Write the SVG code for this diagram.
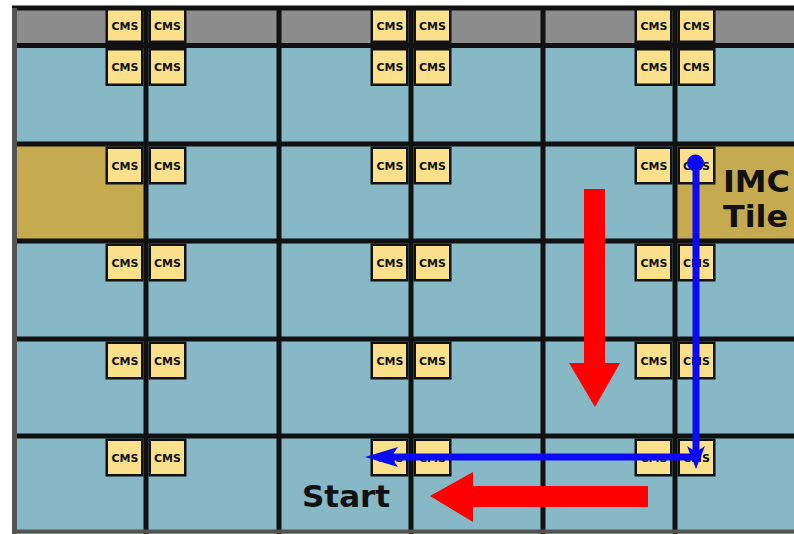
<svg xmlns="http://www.w3.org/2000/svg" width="794" height="534" viewBox="0 0 794 534">
<style>
.cell{fill:#87b8c6}
.box{fill:#fae08a;stroke:#111;stroke-width:2.5}
.lbl{font-family:"DejaVu Sans",sans-serif;font-weight:bold;font-size:11px;fill:#111;text-anchor:middle}
.gl{stroke:#111;stroke-width:5;fill:none}
.big{font-family:"DejaVu Sans",sans-serif;font-weight:bold;fill:#111}
.red{fill:#ff0000}
.blue{stroke:#0a0af5;stroke-width:7;fill:none}
.bluef{fill:#0a0af5}
</style>
<defs>
<g id="pair">
<rect class="box" x="-39.25" y="1.25" width="35.5" height="35.5"/>
<rect class="box" x="3.75" y="1.25" width="35.5" height="35.5"/>
<text class="lbl" x="-21" y="23">CMS</text>
<text class="lbl" x="21.5" y="23">CMS</text>
</g>
<g id="toppair">
<rect class="box" x="-39.25" y="9.25" width="35.5" height="32.5"/>
<rect class="box" x="3.75" y="9.25" width="35.5" height="32.5"/>
<text class="lbl" x="-21" y="29.5">CMS</text>
<text class="lbl" x="21.5" y="29.5">CMS</text>
</g>
</defs>
<rect width="794" height="534" fill="#fff"/>
<g id="grid">
<rect class="cell" x="12" y="6" width="782" height="528"/>
<rect x="12" y="6" width="782" height="40" fill="#8d8d8d"/>
<rect id="imc-left" x="16" y="146" width="128" height="93" fill="#c5aa50"/>
<rect id="imc-right" x="676" y="146" width="118" height="93" fill="#c5aa50"/>
<path class="gl" d="M12 8H794M12 45.5H794M12 144H794M12 241H794M12 339H794M12 436H794M146 6V534M279 6V534M411 6V534M543 6V534M675 6V534"/>
<path d="M14.5 8V534" stroke="#555" stroke-width="5"/>
<path d="M12 531.5H794" stroke="#555" stroke-width="4"/>
</g>
<g id="cms-row0">
<use href="#toppair" x="146" y="0"/><use href="#toppair" x="411" y="0"/><use href="#toppair" x="675" y="0"/>
</g>
<g id="cms-row1">
<use href="#pair" x="146" y="48"/><use href="#pair" x="411" y="48"/><use href="#pair" x="675" y="48"/>
</g>
<g id="cms-row2">
<use href="#pair" x="146" y="146.5"/><use href="#pair" x="411" y="146.5"/><use href="#pair" x="675" y="146.5"/>
</g>
<g id="cms-row3">
<use href="#pair" x="146" y="243.5"/><use href="#pair" x="411" y="243.5"/><use href="#pair" x="675" y="243.5"/>
</g>
<g id="cms-row4">
<use href="#pair" x="146" y="341.5"/><use href="#pair" x="411" y="341.5"/><use href="#pair" x="675" y="341.5"/>
</g>
<g id="cms-row5">
<use href="#pair" x="146" y="438.5"/><use href="#pair" x="411" y="438.5"/><use href="#pair" x="675" y="438.5"/>
</g>
<g id="connectors">
<polygon class="red" points="584,189 605,189 605,363 620,363 595,407 569,363 584,363"/>
<polygon class="red" points="648,486 473,486 473,472 430,496 473,522 473,507 648,507"/>
<path class="blue" d="M696 163V455M696 457H392"/>
<circle class="bluef" cx="695.5" cy="163" r="8.5"/>
<polygon class="bluef" points="696,469 687,446 696,452 705,446"/>
<polygon class="bluef" points="365,457 398,447 391,457 398,467"/>
</g>
<g id="labels">
<text class="big" x="723" y="192" font-size="30" textLength="67" lengthAdjust="spacingAndGlyphs">IMC</text>
<text class="big" x="723" y="227" font-size="30" textLength="65" lengthAdjust="spacingAndGlyphs">Tile</text>
<text class="big" x="302" y="507" font-size="31">Start</text>
</g>
</svg>
